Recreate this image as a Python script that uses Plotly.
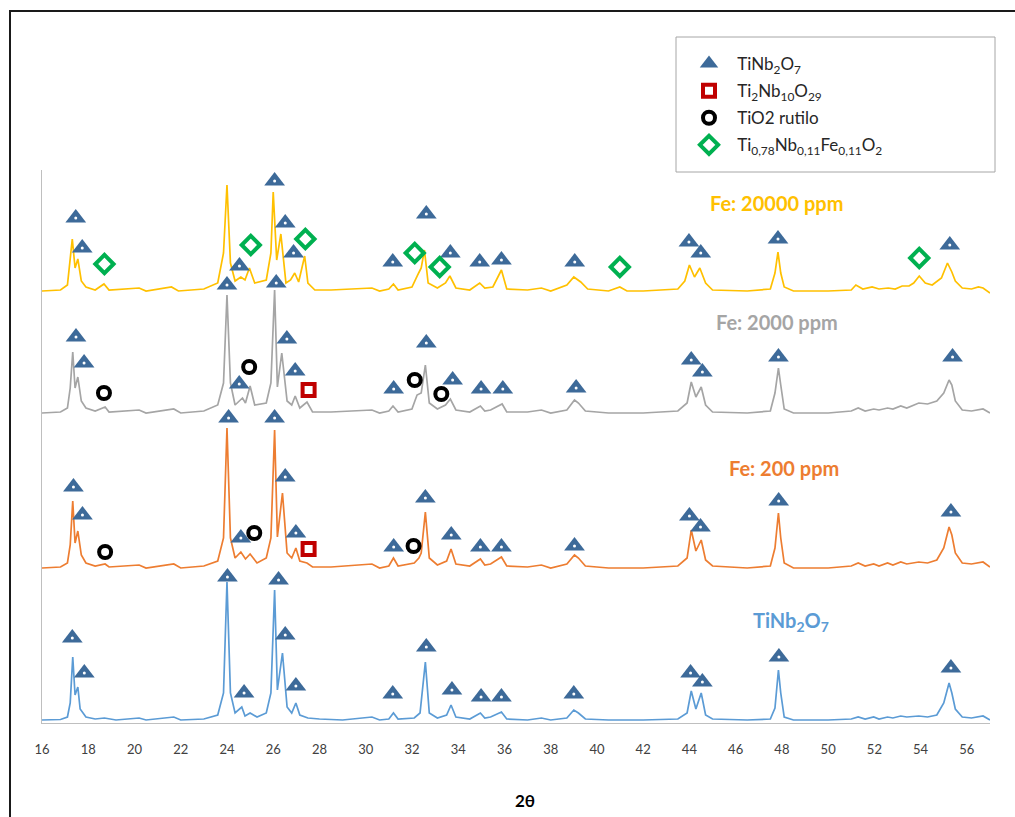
import plotly.graph_objects as go

# ---------------- data (2-theta in degrees, intensity in arbitrary stacked units) ----------------
X_TINB = [16.0, 16.8, 17.1, 17.22, 17.33, 17.43, 17.55, 17.65, 17.9, 18.3, 18.7, 19.2, 20.2, 20.5, 21.7, 22.0,
          23.0, 23.6, 23.85, 24.0, 24.15, 24.35, 24.64, 24.78, 25.0, 25.3, 25.7, 25.9, 26.06, 26.18, 26.4, 26.6,
          26.8, 26.98, 27.15, 27.5, 28.0, 29.0, 30.27, 30.6, 31.0, 31.2, 31.4, 32.1, 32.35, 32.58, 32.75, 33.1,
          33.5, 33.69, 33.9, 34.5, 34.96, 35.15, 35.4, 35.87, 36.1, 37.0, 37.6, 38.0, 38.7, 39.0, 39.2, 39.5,
          40.5, 42.0, 43.5, 43.9, 44.08, 44.28, 44.51, 44.7, 45.0, 46.5, 47.5, 47.7, 47.85, 47.95, 48.1, 48.5,
          50.0, 51.0, 51.3, 51.6, 51.97, 52.2, 52.57, 52.8, 53.14, 53.4, 53.92, 54.3, 54.7, 55.0, 55.23, 55.35,
          55.5, 55.8, 56.2, 56.7, 57.0]
Y_TINB = [3, 3.5, 6, 20, 66, 28, 36, 14, 6, 4, 5, 3, 5, 3, 6, 3,
          4, 8, 30, 141, 30, 10, 16, 7, 10, 6, 10, 30, 133, 33, 70, 16,
          10, 20, 8, 5, 4, 3, 6, 3, 4, 10, 4, 5, 10, 61, 10, 5,
          8, 18, 6, 4, 10, 5, 6, 11, 4, 3, 5, 3, 5, 13, 10, 4,
          3, 3, 4, 10, 32, 14, 30, 8, 4, 3, 4, 15, 53, 30, 6, 3,
          3, 4, 6, 4, 6, 4, 6, 5, 7, 6, 7, 6, 8, 20, 40, 30,
          14, 6, 5, 7, 3]

X_FE200 = [16.0, 16.8, 17.1, 17.22, 17.33, 17.43, 17.55, 17.7, 17.9, 18.3, 18.73, 18.9, 20.2, 20.5, 21.7, 22.0,
           23.0, 23.6, 23.85, 24.0, 24.15, 24.35, 24.6, 24.8, 25.0, 25.3, 25.7, 25.9, 26.06, 26.18, 26.4, 26.6,
           26.8, 26.98, 27.15, 27.46, 27.7, 28.5, 30.27, 30.6, 31.0, 31.2, 31.4, 32.1, 32.3, 32.4, 32.58, 32.75,
           33.1, 33.5, 33.69, 33.9, 34.5, 34.96, 35.15, 35.4, 35.87, 36.1, 37.0, 37.6, 38.0, 38.7, 39.03, 39.2,
           39.5, 40.5, 42.0, 43.5, 43.9, 44.08, 44.28, 44.51, 44.7, 45.0, 46.5, 47.5, 47.7, 47.85, 47.95, 48.1,
           48.5, 50.0, 51.0, 51.3, 51.6, 51.97, 52.2, 52.57, 52.8, 53.14, 53.4, 53.92, 54.3, 54.7, 55.0, 55.23,
           55.35, 55.5, 55.8, 56.2, 56.7, 57.0]
Y_FE200 = [155, 156, 160, 178, 222, 180, 192, 168, 160, 157, 159, 156, 158, 155, 159, 155,
           157, 162, 185, 295, 185, 165, 171, 164, 169, 160, 165, 185, 293, 186, 230, 170,
           165, 175, 162, 160, 156, 156, 159, 155, 157, 165, 157, 160, 165, 170, 211, 165,
           158, 162, 174, 159, 157, 164, 158, 159, 166, 157, 156, 158, 155, 159, 168, 165,
           157, 155, 155, 157, 165, 193, 172, 183, 163, 157, 155, 157, 175, 210, 185, 160,
           155, 155, 157, 160, 157, 159, 157, 160, 158, 161, 159, 161, 160, 163, 175, 196,
           188, 170, 160, 159, 161, 156]

X_FE2000 = [16.0, 16.8, 17.1, 17.22, 17.33, 17.43, 17.55, 17.7, 17.9, 18.3, 18.73, 18.9, 20.2, 20.5, 21.7, 22.0,
            23.0, 23.6, 23.85, 24.0, 24.15, 24.35, 24.67, 24.8, 25.0, 25.2, 25.7, 25.9, 26.06, 26.18, 26.37, 26.6,
            26.8, 26.95, 27.15, 27.46, 27.7, 28.5, 30.27, 30.6, 31.0, 31.18, 31.4, 32.0, 32.22, 32.4, 32.58, 32.75,
            33.1, 33.45, 33.66, 33.9, 34.5, 34.96, 35.15, 35.4, 35.9, 36.1, 37.0, 37.6, 38.0, 38.7, 39.03, 39.2,
            39.5, 40.5, 42.0, 43.5, 43.9, 44.08, 44.28, 44.51, 44.7, 45.0, 46.5, 47.5, 47.7, 47.85, 47.95, 48.1,
            48.5, 50.0, 51.0, 51.3, 51.6, 51.97, 52.2, 52.57, 52.8, 53.14, 53.4, 53.7, 53.92, 54.3, 54.7, 55.0,
            55.23, 55.35, 55.5, 55.8, 56.2, 56.7, 57.0]
Y_FE2000 = [310, 311, 315, 335, 371, 335, 346, 322, 315, 312, 316, 311, 313, 310, 314, 310,
            312, 318, 340, 428, 340, 318, 325, 320, 337, 318, 320, 340, 433, 336, 370, 322,
            318, 327, 315, 321, 311, 311, 313, 310, 312, 317, 311, 314, 328, 330, 358, 320,
            314, 318, 324, 313, 311, 317, 312, 313, 319, 311, 311, 313, 310, 313, 323, 320,
            312, 310, 310, 312, 320, 341, 326, 336, 318, 311, 310, 312, 330, 355, 338, 314,
            310, 310, 312, 315, 312, 314, 313, 315, 314, 317, 315, 318, 320, 319, 322, 330,
            343, 338, 322, 313, 312, 314, 310]

X_FE20000 = [16.0, 16.8, 17.1, 17.2, 17.31, 17.43, 17.55, 17.7, 17.9, 18.3, 18.68, 18.9, 20.2, 20.5, 21.6, 21.9,
             23.0, 23.6, 23.85, 24.0, 24.15, 24.35, 24.6, 24.78, 24.97, 25.2, 25.7, 25.9, 26.0, 26.15, 26.33, 26.55,
             26.75, 26.93, 27.1, 27.36, 27.5, 27.8, 28.5, 30.27, 30.6, 31.0, 31.2, 31.4, 32.0, 32.29, 32.4, 32.54,
             32.7, 33.1, 33.45, 33.64, 33.9, 34.5, 34.93, 35.15, 35.5, 35.87, 36.1, 37.0, 37.6, 38.0, 38.7, 39.0,
             39.3, 39.6, 40.5, 40.99, 41.3, 42.0, 43.5, 43.8, 44.0, 44.22, 44.45, 44.7, 45.0, 46.5, 47.5, 47.7,
             47.83, 47.95, 48.1, 48.5, 50.0, 51.0, 51.2, 51.5, 51.9, 52.2, 52.6, 52.9, 53.2, 53.5, 53.7, 53.94,
             54.2, 54.5, 54.9, 55.16, 55.35, 55.5, 55.8, 56.2, 56.5, 56.7, 57.0]
Y_FE20000 = [432, 433, 438, 460, 484, 455, 464, 442, 436, 433, 439, 433, 435, 432, 436, 432,
             434, 440, 470, 538, 460, 442, 446, 443, 455, 440, 443, 470, 531, 463, 489, 440,
             443, 450, 441, 467, 440, 433, 433, 435, 432, 434, 439, 433, 436, 450, 455, 473,
             440, 435, 440, 447, 435, 433, 440, 435, 436, 453, 434, 433, 435, 432, 438, 446,
             441, 434, 432, 436, 432, 432, 434, 442, 458, 446, 455, 440, 433, 432, 434, 450,
             471, 450, 436, 432, 432, 433, 438, 434, 436, 434, 435, 434, 437, 437, 440, 447,
             440, 438, 445, 460, 451, 442, 435, 434, 436, 435, 430]

# phase markers (2-theta, stacked intensity)
TRI_X = [17.46, 17.74, 24.0, 24.54, 26.06, 26.52, 26.88, 31.17, 32.62, 33.66, 34.93, 35.87, 39.04, 43.98, 44.49, 47.83, 55.26,
         17.47, 17.82, 24.0, 24.53, 26.13, 26.59, 26.95, 31.21, 32.62, 33.76, 34.99, 35.93, 39.1, 44.08, 44.56, 47.85, 55.38,
         17.36, 17.75, 24.07, 24.6, 26.06, 26.52, 26.98, 31.21, 32.58, 33.7, 34.96, 35.87, 39.03, 44.0, 44.48, 47.86, 55.31,
         17.31, 17.83, 24.02, 24.74, 26.23, 26.52, 26.98, 31.17, 32.62, 33.73, 34.99, 35.87, 39.0, 44.05, 44.56, 47.87, 55.31]
TRI_Y = [505, 475, 555, 457, 542, 500, 470, 461, 509, 470, 461, 463, 461, 481, 470, 484, 478,
         386, 360, 438, 339, 440, 384, 352, 334, 380, 343, 334, 334, 335, 363, 351, 366, 366,
         236, 208, 305, 185, 305, 246, 190, 176, 225, 188, 176, 176, 177, 207, 196, 222, 211,
         85, 50, 146, 30, 143, 88, 37, 29, 76, 33, 26, 26, 29, 50, 41, 66, 55]
SQ_X = [27.53, 27.53]
SQ_Y = [333, 174]
CIR_X = [18.68, 24.96, 32.12, 33.27, 18.73, 25.18, 32.07]
CIR_Y = [330, 356, 343, 329, 171, 190, 177]
DIA_X = [18.7, 25.03, 27.39, 32.12, 33.2, 40.99, 53.94]
DIA_Y = [459, 478, 484, 470, 456, 456, 465]

SERIES = [
    ("TiNb<sub>2</sub>O<sub>7</sub>", X_TINB, Y_TINB, "#5B9BD5"),
    ("Fe: 200 ppm", X_FE200, Y_FE200, "#ED7D31"),
    ("Fe: 2000 ppm", X_FE2000, Y_FE2000, "#A5A5A5"),
    ("Fe: 20000 ppm", X_FE20000, Y_FE20000, "#FFC000"),
]
# label anchor points (2-theta, intensity)
LABELS = [("TiNb<sub>2</sub>O<sub>7</sub>", 48.38, 102, "#5B9BD5"),
          ("Fe: 200 ppm", 48.08, 255, "#ED7D31"),
          ("Fe: 2000 ppm", 47.78, 401, "#A5A5A5"),
          ("Fe: 20000 ppm", 47.78, 520, "#FFC000")]
LEGEND_NAMES = ["TiNb<sub>2</sub>O<sub>7</sub>", "Ti<sub>2</sub>Nb<sub>10</sub>O<sub>29</sub>", "TiO2 rutilo",
                "Ti<sub>0,78</sub>Nb<sub>0,11</sub>Fe<sub>0,11</sub>O<sub>2</sub>"]

FONT = "Lato"
W, H = 1015, 817
ML, MR, MT, MB = 42, 25, 170, 94
PW, PH = W - ML - MR, H - MT - MB


def px2paper(px, py):
    return (px - ML) / PW, (H - MB - py) / PH


fig = go.Figure()
for name, xs, ys, col in SERIES:
    fig.add_trace(go.Scatter(x=xs, y=ys, mode="lines", line=dict(color=col, width=1.7),
                             showlegend=False, hoverinfo="skip"))

NB = "\u00a0\u00a0"
fig.add_trace(go.Scatter(x=TRI_X, y=TRI_Y, mode="markers", name=NB + LEGEND_NAMES[0], legendgroup="a",
                         marker=dict(symbol="triangle-up", size=18, color="#3D6A99", line=dict(width=0)),
                         cliponaxis=False))
fig.add_trace(go.Scatter(x=TRI_X, y=TRI_Y, mode="markers", showlegend=False, hoverinfo="skip",
                         marker=dict(symbol="circle", size=3, color="white", line=dict(width=0)),
                         cliponaxis=False))
fig.add_trace(go.Scatter(x=SQ_X, y=SQ_Y, mode="markers", name=NB + LEGEND_NAMES[1], legendgroup="b",
                         marker=dict(symbol="square", size=12, color="white", line=dict(width=4, color="#C00000")),
                         cliponaxis=False))
fig.add_trace(go.Scatter(x=CIR_X, y=CIR_Y, mode="markers", name=NB + LEGEND_NAMES[2], legendgroup="c",
                         marker=dict(symbol="circle", size=12, color="white", line=dict(width=4, color="black")),
                         cliponaxis=False))
fig.add_trace(go.Scatter(x=DIA_X, y=DIA_Y, mode="markers", name=NB + LEGEND_NAMES[3], legendgroup="d",
                         marker=dict(symbol="diamond", size=14, color="white", line=dict(width=4, color="#00B050")),
                         cliponaxis=False))

annotations = []
for txt, x, y, col in LABELS:
    annotations.append(dict(x=x, y=y, xref="x", yref="y", text="<b>" + txt + "</b>", showarrow=False,
                            font=dict(family=FONT, size=20, color=col)))
tx, ty = px2paper(525, 800)
annotations.append(dict(x=tx, y=ty, xref="paper", yref="paper", text="<b>2θ</b>", showarrow=False,
                        xanchor="center", yanchor="middle",
                        font=dict(family=FONT, size=17, color="black")))

shapes = []
lx0, ly0 = px2paper(676, 172)
lx1, ly1 = px2paper(995, 37)
shapes.append(dict(type="rect", xref="paper", yref="paper", x0=lx0, y0=ly0, x1=lx1, y1=ly1,
                   line=dict(color="#A6A6A6", width=1), fillcolor="rgba(0,0,0,0)"))
fx0, fy0 = px2paper(10, 830)
fx1, fy1 = px2paper(1030, 11)
shapes.append(dict(type="rect", xref="paper", yref="paper", x0=fx0, y0=fy0, x1=fx1, y1=fy1,
                   line=dict(color="#1a1a1a", width=2), fillcolor="rgba(0,0,0,0)", layer="below"))

legx, legy = px2paper(689, 46)
fig.update_layout(
    width=W, height=H,
    margin=dict(l=ML, r=MR, t=MT, b=MB),
    paper_bgcolor="white", plot_bgcolor="white",
    showlegend=True,
    legend=dict(x=legx, y=legy, xanchor="left", yanchor="top", bgcolor="rgba(0,0,0,0)",
                borderwidth=0, tracegroupgap=2, font=dict(family=FONT, size=17, color="#262626")),
    xaxis=dict(range=[16, 57], tickmode="array", tickvals=list(range(16, 57, 2)),
               showgrid=False, zeroline=False, showline=True, linecolor="#BFBFBF", linewidth=1,
               ticks="outside", ticklen=14, tickcolor="rgba(0,0,0,0)",
               tickfont=dict(family=FONT, size=13, color="#404040")),
    yaxis=dict(range=[0, 553], showgrid=False, zeroline=False, showline=True, linecolor="#BFBFBF",
               linewidth=1, showticklabels=False, ticks=""),
    annotations=annotations, shapes=shapes,
)
fig.write_html("out.html")
